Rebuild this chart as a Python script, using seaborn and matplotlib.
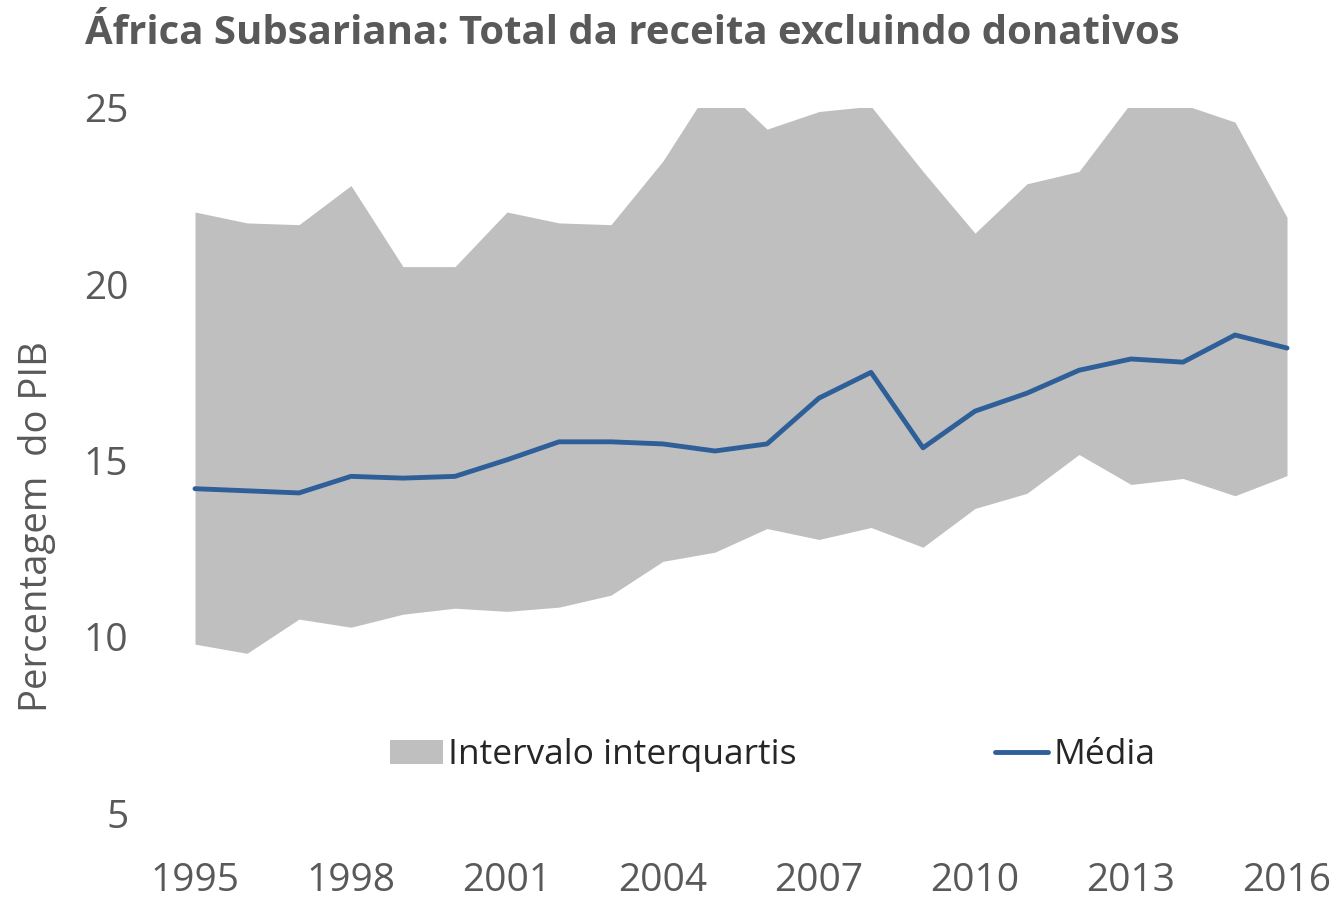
import pandas as pd
import seaborn as sns
import matplotlib.pyplot as plt
from matplotlib.patches import Patch
from matplotlib.lines import Line2D

years = list(range(1995, 2017))
upper_quartile = [22.05, 21.74, 21.69, 22.8, 20.5, 20.5, 22.05, 21.74, 21.69, 23.5, 25.8,
                  24.4, 24.9, 25.05, 23.2, 21.45, 22.85, 23.2, 25.15, 25.1, 24.6, 21.9]
lower_quartile = [9.79, 9.53, 10.5, 10.27, 10.64, 10.81, 10.72, 10.84, 11.18, 12.14, 12.4,
                  13.07, 12.76, 13.1, 12.54, 13.64, 14.07, 15.17, 14.32, 14.49, 14.0, 14.57]
median = [14.2, 14.14, 14.08, 14.55, 14.5, 14.55, 15.02, 15.53, 15.53, 15.47, 15.27,
          15.47, 16.77, 17.5, 15.36, 16.4, 16.91, 17.56, 17.88, 17.79, 18.56, 18.19]

df = pd.DataFrame({"year": years, "p25": lower_quartile, "p75": upper_quartile, "median": median})

sns.set_style("white")
plt.rcParams["font.family"] = ["Open Sans", "DejaVu Sans"]

grey_text = "#595959"
band_color = "#BFBFBF"
line_color = "#2E5F98"

fig = plt.figure(figsize=(13.4, 8.97), dpi=100)
ax = fig.add_axes([195 / 1340, 1 - 813 / 897, 1092 / 1340, 705 / 897])

ax.fill_between(df["year"], df["p25"], df["p75"], color=band_color, linewidth=0)
sns.lineplot(data=df, x="year", y="median", ax=ax, color=line_color, linewidth=3.5,
             clip_on=False)

ax.set_xlim(1995, 2016)
ax.set_ylim(5, 25)
ax.set_xticks(list(range(1995, 2017, 3)))
ax.set_yticks([5, 10, 15, 20, 25])
ax.tick_params(axis="x", length=0, pad=35, labelsize=28, labelcolor=grey_text)
ax.tick_params(axis="y", length=0, pad=48, labelsize=28, labelcolor=grey_text)
ax.set_xlabel("")
ax.set_ylabel("Percentagem  do PIB", fontsize=27.5, color=grey_text)
ax.yaxis.set_label_coords(-0.127, 0.407)
sns.despine(ax=ax, left=True, bottom=True)

fig.text(85 / 1340, 1 - 34 / 897, "África Subsariana: Total da receita excluindo donativos",
         fontsize=28.9, fontweight="bold", color=grey_text, va="center", ha="left")

handles = [Patch(facecolor=band_color, edgecolor="none"),
           Line2D([0], [0], color=line_color, linewidth=3.5)]
ax.legend(handles, ["Intervalo interquartis", "Média"], ncol=2, frameon=False,
          loc="center", bbox_to_anchor=(0.529, 0.082), fontsize=25.5, labelcolor="#262626",
          handlelength=1.5, handleheight=0.65, handletextpad=0.15, columnspacing=5.6)

fig.savefig("out.png", dpi=100)
